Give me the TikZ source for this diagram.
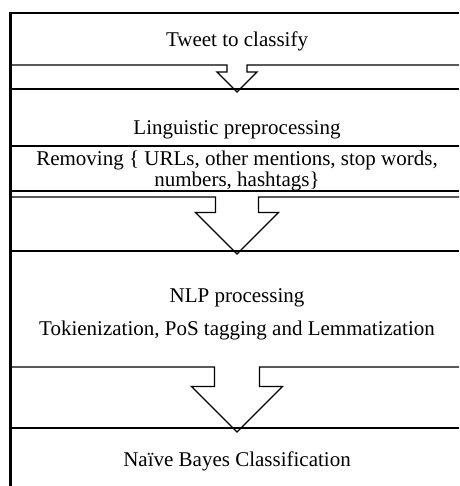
\documentclass[tikz,border=0pt]{standalone}
\usepackage{fontspec}
\setmainfont{Liberation Serif}
\usetikzlibrary{calc}

\begin{document}
\begin{tikzpicture}[x=1pt, y=-1pt, line join=miter,
  rule/.style={line width=1.3pt},
  steptext/.style={font=\fontsize{21}{18}\selectfont, anchor=base, inner sep=0pt}]
  \useasboundingbox (0,0) rectangle (459,486);

  % Frame: left edge and top edge
  \coordinate (TL) at (10.5, 13);
  \coordinate (BL) at (10.5, 486);
  \coordinate (TR) at (459, 13);
  \draw[line width=2.4pt] (BL) -- (TL) -- (TR);

  % Block arrow 1 (tweet -> preprocessing)
  \coordinate (T1) at (237, 92);
  \draw[rule] (10.5, 65) -- (227, 65) -- (227, 72) -- (217, 72) -- (T1)
    -- (257, 72) -- (247, 72) -- (247, 65) -- (459, 65);
  \draw[rule] (10.5, 89) -- (459, 89);

  % Rule between the two preprocessing lines
  \draw[rule] (10.5, 146) -- (459, 146);

  % Double rule and block arrow 2 (preprocessing -> NLP)
  \draw[line width=1.1pt] (10.5, 191) -- (459, 191);
  \coordinate (T2) at (237, 254);
  \draw[rule] (10.5, 197) -- (215.5, 197) -- (215.5, 212.5) -- (195.5, 212.5) -- (T2)
    -- (278.5, 212.5) -- (258.5, 212.5) -- (258.5, 197) -- (459, 197);
  \draw[rule] (10.5, 251) -- (459, 251);

  % Block arrow 3 (NLP -> classification)
  \coordinate (T3) at (237, 432);
  \draw[rule] (10.5, 367) -- (214.5, 367) -- (214.5, 386.5) -- (191.5, 386.5) -- (T3)
    -- (282.5, 386.5) -- (259.5, 386.5) -- (259.5, 367) -- (459, 367);
  \draw[rule] (10.5, 428) -- (459, 428);

  % Labels
  \node[steptext] (tweet) at (237, 47) {Tweet to classify};
  \node[steptext] (ling) at (237, 135) {Linguistic preprocessing};
  \node[steptext, text depth=0pt] (remA) at (237, 166) {Removing \{ URLs, other mentions, stop words,};
  \node[steptext, text height=11pt] (remB) at (237, 186.5) {numbers, hashtags\}};
  \node[steptext] (nlp) at (237, 302) {NLP processing};
  \node[steptext] (tok) at (237, 335) {Tokienization, PoS tagging and Lemmatization};
  \node[steptext] (nb) at (237, 466) {Naïve Bayes Classification};
\end{tikzpicture}
\end{document}
